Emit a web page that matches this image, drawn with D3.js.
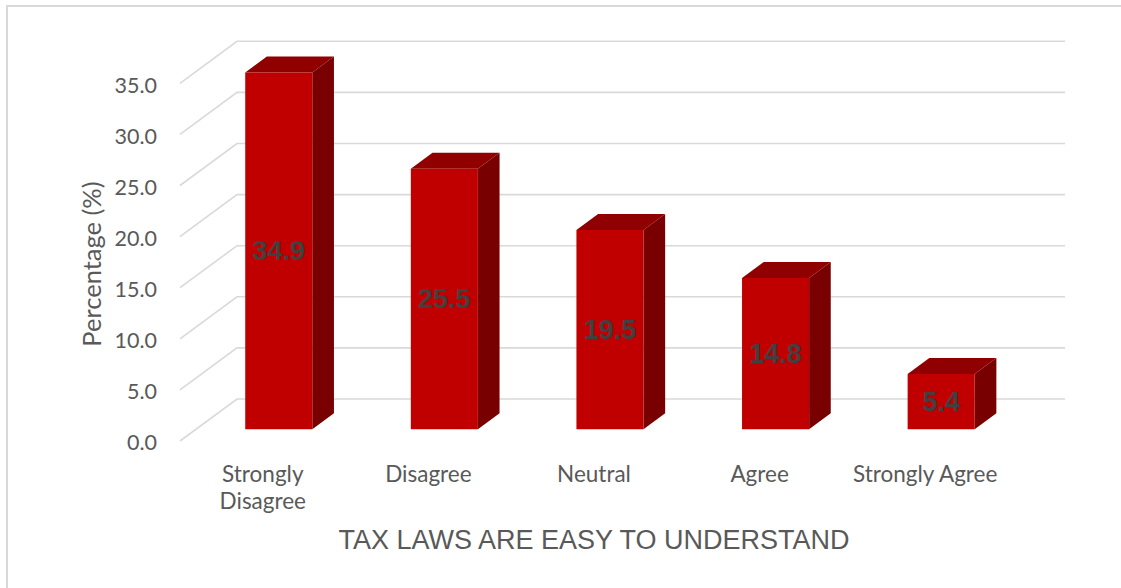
<!DOCTYPE html>
<html>
<head>
<meta charset="utf-8">
<script src="https://cdn.jsdelivr.net/npm/d3@7"></script>
<style>
  html, body { margin: 0; padding: 0; background: #fff; }
  svg { display: block; }
</style>
</head>
<body>
<svg id="chart" width="1121" height="588"></svg>
<script>
// Survey responses: "Tax laws are easy to understand"
const categories = ["Strongly Disagree", "Disagree", "Neutral", "Agree", "Strongly Agree"];
const values = [34.9, 25.5, 19.5, 14.8, 5.4];
const tickValues = [0, 5, 10, 15, 20, 25, 30, 35];
const yTitle = "Percentage (%)";
const xTitle = "TAX LAWS ARE EASY TO UNDERSTAND";

const W = 1121, H = 588;
const svg = d3.select("#chart");

// Oblique 3D projection: depth z in [0,1] shifts right/up
const DX = 57, DY = 42;
const x = d3.scaleBand().domain(categories).range([180, 1008]).padding(0);
const y = d3.scaleLinear().domain([0, 35]).range([441, 441 - 357.7]);
const proj = (px, v, z) => [px + z * DX, y(v) - z * DY];

const zFront = 0.28, zBack = 0.66;
const barW = x.bandwidth() * 0.405;

// Chart frame
svg.append("rect")
  .attr("x", 7).attr("y", 6).attr("width", 1300).attr("height", 800)
  .attr("fill", "none").attr("stroke", "#d9d9d9").attr("stroke-width", 2);

// Gridlines: diagonal on the side wall, horizontal on the back wall
const grid = svg.append("g");
tickValues.forEach(t => {
  const p0 = proj(x.range()[0], t, 0);
  const p1 = proj(x.range()[0], t, 1);
  const p2 = proj(x.range()[1], t, 1);
  grid.append("polyline")
    .attr("points", [p0, p1, p2].map(p => p.join(",")).join(" "))
    .attr("fill", "none").attr("stroke", "#d9d9d9").attr("stroke-width", 1.6);
});

// Value axis labels
const axis = d3.axisLeft(y).tickValues(tickValues).tickSize(0).tickPadding(0)
  .tickFormat(d3.format(".1f"));
const gAxis = svg.append("g").attr("transform", "translate(157,2)").call(axis);
gAxis.select(".domain").remove();
gAxis.selectAll("text")
  .attr("font-family", "Lato, 'Open Sans', sans-serif")
  .attr("font-size", 21.5).attr("fill", "#595959");

// Bars: side, top, front faces
const colFront = "#c00000", colTop = "#900000", colSide = "#780000";
const bars = svg.append("g");
categories.forEach((c, i) => {
  const v = values[i];
  const xl = x(c) + x.bandwidth() / 2 - barW / 2;
  const xr = xl + barW;
  const poly = pts => pts.map(p => p.join(",")).join(" ");
  const g = bars.append("g");
  // right side face
  g.append("polygon").attr("fill", colSide)
    .attr("points", poly([proj(xr, 0, zFront), proj(xr, 0, zBack), proj(xr, v, zBack), proj(xr, v, zFront)]));
  // top face
  g.append("polygon").attr("fill", colTop)
    .attr("points", poly([proj(xl, v, zFront), proj(xl, v, zBack), proj(xr, v, zBack), proj(xr, v, zFront)]));
  // front face
  g.append("polygon").attr("fill", colFront)
    .attr("points", poly([proj(xl, 0, zFront), proj(xr, 0, zFront), proj(xr, v, zFront), proj(xl, v, zFront)]));
  // value label at the centre of the front face
  const mid = proj((xl + xr) / 2, v / 2, zFront);
  g.append("text")
    .attr("x", mid[0]).attr("y", mid[1])
    .attr("text-anchor", "middle").attr("dominant-baseline", "central")
    .attr("font-family", "'Liberation Sans', Arial, sans-serif")
    .attr("font-weight", "bold").attr("font-size", 27).attr("fill", "#404040")
    .text(d3.format(".1f")(v));
});

// Category labels, wrapped to the band width
const catG = svg.append("g")
  .attr("font-family", "Lato, 'Open Sans', sans-serif")
  .attr("font-size", 22.5).attr("fill", "#595959");
categories.forEach(c => {
  const cx = x(c) + x.bandwidth() / 2;
  const t = catG.append("text").attr("text-anchor", "middle");
  const words = c.split(" ");
  let line = [];
  let tspan = t.append("tspan").attr("x", cx).attr("y", 482);
  let lineNo = 0;
  words.forEach(w => {
    line.push(w);
    tspan.text(line.join(" "));
    if (tspan.node().getComputedTextLength() > x.bandwidth() - 4 && line.length > 1) {
      line.pop();
      tspan.text(line.join(" "));
      line = [w];
      lineNo++;
      tspan = t.append("tspan").attr("x", cx).attr("y", 482 + lineNo * 26.5).text(w);
    }
  });
});

// Axis titles
svg.append("text")
  .attr("transform", "translate(101,264) rotate(-90)")
  .attr("text-anchor", "middle")
  .attr("font-family", "Lato, 'Open Sans', sans-serif")
  .attr("font-size", 25.5).attr("fill", "#595959")
  .text(yTitle);

svg.append("text")
  .attr("x", 594).attr("y", 549)
  .attr("text-anchor", "middle")
  .attr("font-family", "'Liberation Sans', Arial, sans-serif")
  .attr("font-size", 27).attr("fill", "#595959")
  .text(xTitle);
</script>
</body>
</html>
